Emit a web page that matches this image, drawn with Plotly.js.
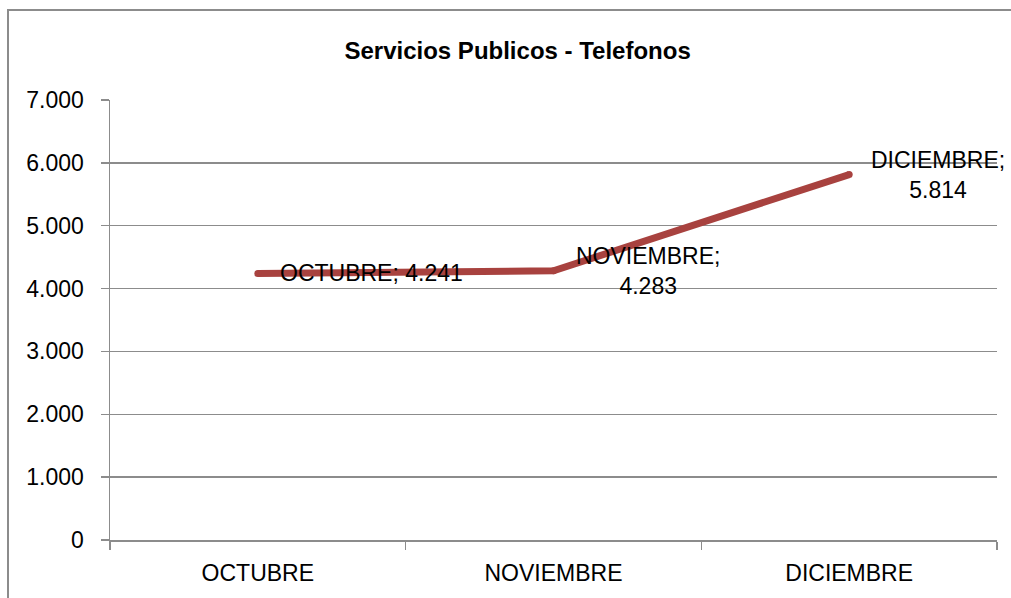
<!DOCTYPE html>
<html>
<head>
<meta charset="utf-8">
<script src="https://cdn.plot.ly/plotly-3.0.1.min.js"></script>
<style>html,body{margin:0;padding:0;background:#fff;overflow:hidden}</style>
</head>
<body>
<div id="chart" style="width:1011px;height:598px"></div>
<script>
const categories = ["OCTUBRE", "NOVIEMBRE", "DICIEMBRE"];
const values = [4241, 4283, 5814];
const labelTexts = ["OCTUBRE; 4.241", "NOVIEMBRE;<br>4.283", "DICIEMBRE;<br>5.814"];
const yTickVals = [0, 1000, 2000, 3000, 4000, 5000, 6000, 7000];
const yTickText = ["0", "1.000", "2.000", "3.000", "4.000", "5.000", "6.000", "7.000"];

const font = "Liberation Sans, Arial, sans-serif";
const grey = "#8c8c8c";
const fs = 23;

const trace = {
  type: "scatter",
  mode: "lines+markers",
  x: categories,
  y: values,
  line: {color: "#A8423F", width: 7},
  marker: {color: "#A8423F", size: 7, line: {width: 0}},
  hoverinfo: "skip"
};

const annotations = categories.map((c, i) => ({
  x: c, y: values[i], xref: "x", yref: "y",
  text: labelTexts[i], showarrow: false,
  xanchor: "left", yanchor: "middle", align: "center",
  xshift: 20,
  font: {family: font, size: fs, color: "#000"}
}));

const layout = {
  width: 1011, height: 598,
  margin: {l: 110, r: 14, t: 100, b: 58},
  paper_bgcolor: "#fff", plot_bgcolor: "#fff",
  showlegend: false,
  separators: ",.",
  title: {
    text: "<b>Servicios Publicos - Telefonos</b>",
    font: {family: font, size: 24, color: "#000"},
    x: 0.512, xanchor: "center", y: 0.915, yanchor: "middle"
  },
  xaxis: {
    type: "category", range: [-0.5, 2.5],
    showgrid: false, showline: true, linecolor: grey, linewidth: 1.5,
    ticks: "outside", tickson: "boundaries", ticklen: 8, tickcolor: grey, tickwidth: 1.5,
    tickfont: {family: font, size: fs, color: "#000"},
    ticklabelstandoff: 12,
    zeroline: false, fixedrange: true
  },
  yaxis: {
    range: [0, 7000], tickvals: yTickVals, ticktext: yTickText,
    showgrid: true, gridcolor: grey, gridwidth: 1.5,
    showline: true, linecolor: grey, linewidth: 1.5,
    ticks: "outside", ticklen: 8, tickcolor: grey, tickwidth: 1.5,
    tickfont: {family: font, size: fs, color: "#000"},
    ticklabelstandoff: 12,
    zeroline: false, fixedrange: true
  },
  annotations: annotations,
  shapes: [{
    type: "rect", xref: "paper", yref: "paper",
    x0: (8 - 110) / 887, x1: 1.2,
    y0: -0.3, y1: (540 - 10) / 440,
    line: {color: grey, width: 2}, fillcolor: "rgba(0,0,0,0)", layer: "below"
  }]
};

Plotly.newPlot("chart", [trace], layout, {displayModeBar: false, staticPlot: true});
</script>
</body>
</html>
